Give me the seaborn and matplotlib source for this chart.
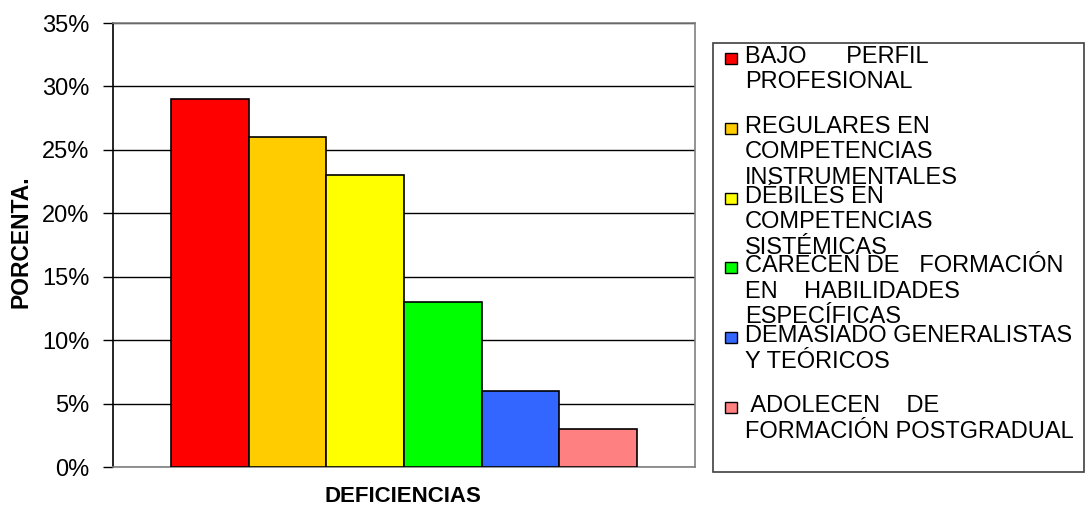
import pandas as pd
import matplotlib.pyplot as plt
import seaborn as sns
from matplotlib.patches import Rectangle
from matplotlib.ticker import PercentFormatter, MultipleLocator

# Datos del gráfico
deficiencias = [
    "BAJO      PERFIL\nPROFESIONAL",
    "REGULARES EN\nCOMPETENCIAS\nINSTRUMENTALES",
    "DÉBILES EN\nCOMPETENCIAS\nSISTÉMICAS",
    "CARECEN DE   FORMACIÓN\nEN    HABILIDADES\nESPECÍFICAS",
    "DEMASIADO GENERALISTAS\nY TEÓRICOS",
    " ADOLECEN    DE\nFORMACIÓN POSTGRADUAL",
]
porcentajes = [29, 26, 23, 13, 6, 3]
colores = ["#FF0000", "#FFCC00", "#FFFF00", "#00FF00", "#3366FF", "#FF8080"]

W, H = 1091, 508

sns.set_style("white")
plt.rcParams['font.family'] = ['Liberation Sans', 'DejaVu Sans']
plt.rcParams['text.color'] = 'black'
plt.rcParams['ytick.color'] = 'black'

df = pd.DataFrame({
    'grupo': ['DEFICIENCIAS'] * len(porcentajes),
    'deficiencia': deficiencias,
    'valor': porcentajes,
})

fig = plt.figure(figsize=(W / 100, H / 100), dpi=100)
ax = fig.add_axes([113 / W, 1 - 467 / H, (695 - 113) / W, (467 - 23) / H])

sns.barplot(data=df, x='grupo', y='valor', hue='deficiencia', palette=colores,
            hue_order=deficiencias, saturation=1, width=0.8, legend=False,
            edgecolor='black', linewidth=1.2, ax=ax, zorder=3)

ax.set_ylim(0, 35)
ax.yaxis.set_major_locator(MultipleLocator(5))
ax.yaxis.set_major_formatter(PercentFormatter(xmax=100, decimals=0))
ax.grid(axis='y', color='black', linewidth=1, zorder=0)
ax.set_axisbelow(True)
ax.set_xticks([])
ax.tick_params(axis='y', left=True, length=7, width=1, color='black',
               labelcolor='black', pad=10, labelsize=17)
for lado in ['top', 'right', 'bottom']:
    ax.spines[lado].set_color('#808080')
    ax.spines[lado].set_linewidth(1.2)
ax.spines['left'].set_color('black')
ax.spines['left'].set_linewidth(1.2)

ax.set_xlabel('')
ax.set_ylabel('')
fig.text(21 / W, 1 - 242 / H, 'PORCENTA.', rotation=90, ha='center', va='center',
         fontsize=16.5, fontweight='bold', color='black')
fig.text(403 / W, 1 - 497 / H, 'DEFICIENCIAS', ha='center', va='center',
         fontsize=16, fontweight='bold', color='black')

# Leyenda dibujada a mano (las entradas se solapan como en el original)
fig.patches.append(Rectangle((713 / W, 1 - 472 / H), (1084 - 713) / W, (472 - 43) / H,
                             transform=fig.transFigure, facecolor='white',
                             edgecolor='#404040', linewidth=1.2))
for i, (texto, color) in enumerate(zip(deficiencias, colores)):
    base = 63 + i * 69.8
    fig.patches.append(Rectangle((725 / W, 1 - (base + 1) / H), 12 / W, 11 / H,
                                 transform=fig.transFigure, facecolor=color,
                                 edgecolor='black', linewidth=1))
    for j, linea in enumerate(texto.split('\n')):
        fig.text(745 / W, 1 - (base + j * 25.5) / H, linea, ha='left',
                 va='baseline', fontsize=17, color='black')

fig.savefig('out.png', dpi=100)
